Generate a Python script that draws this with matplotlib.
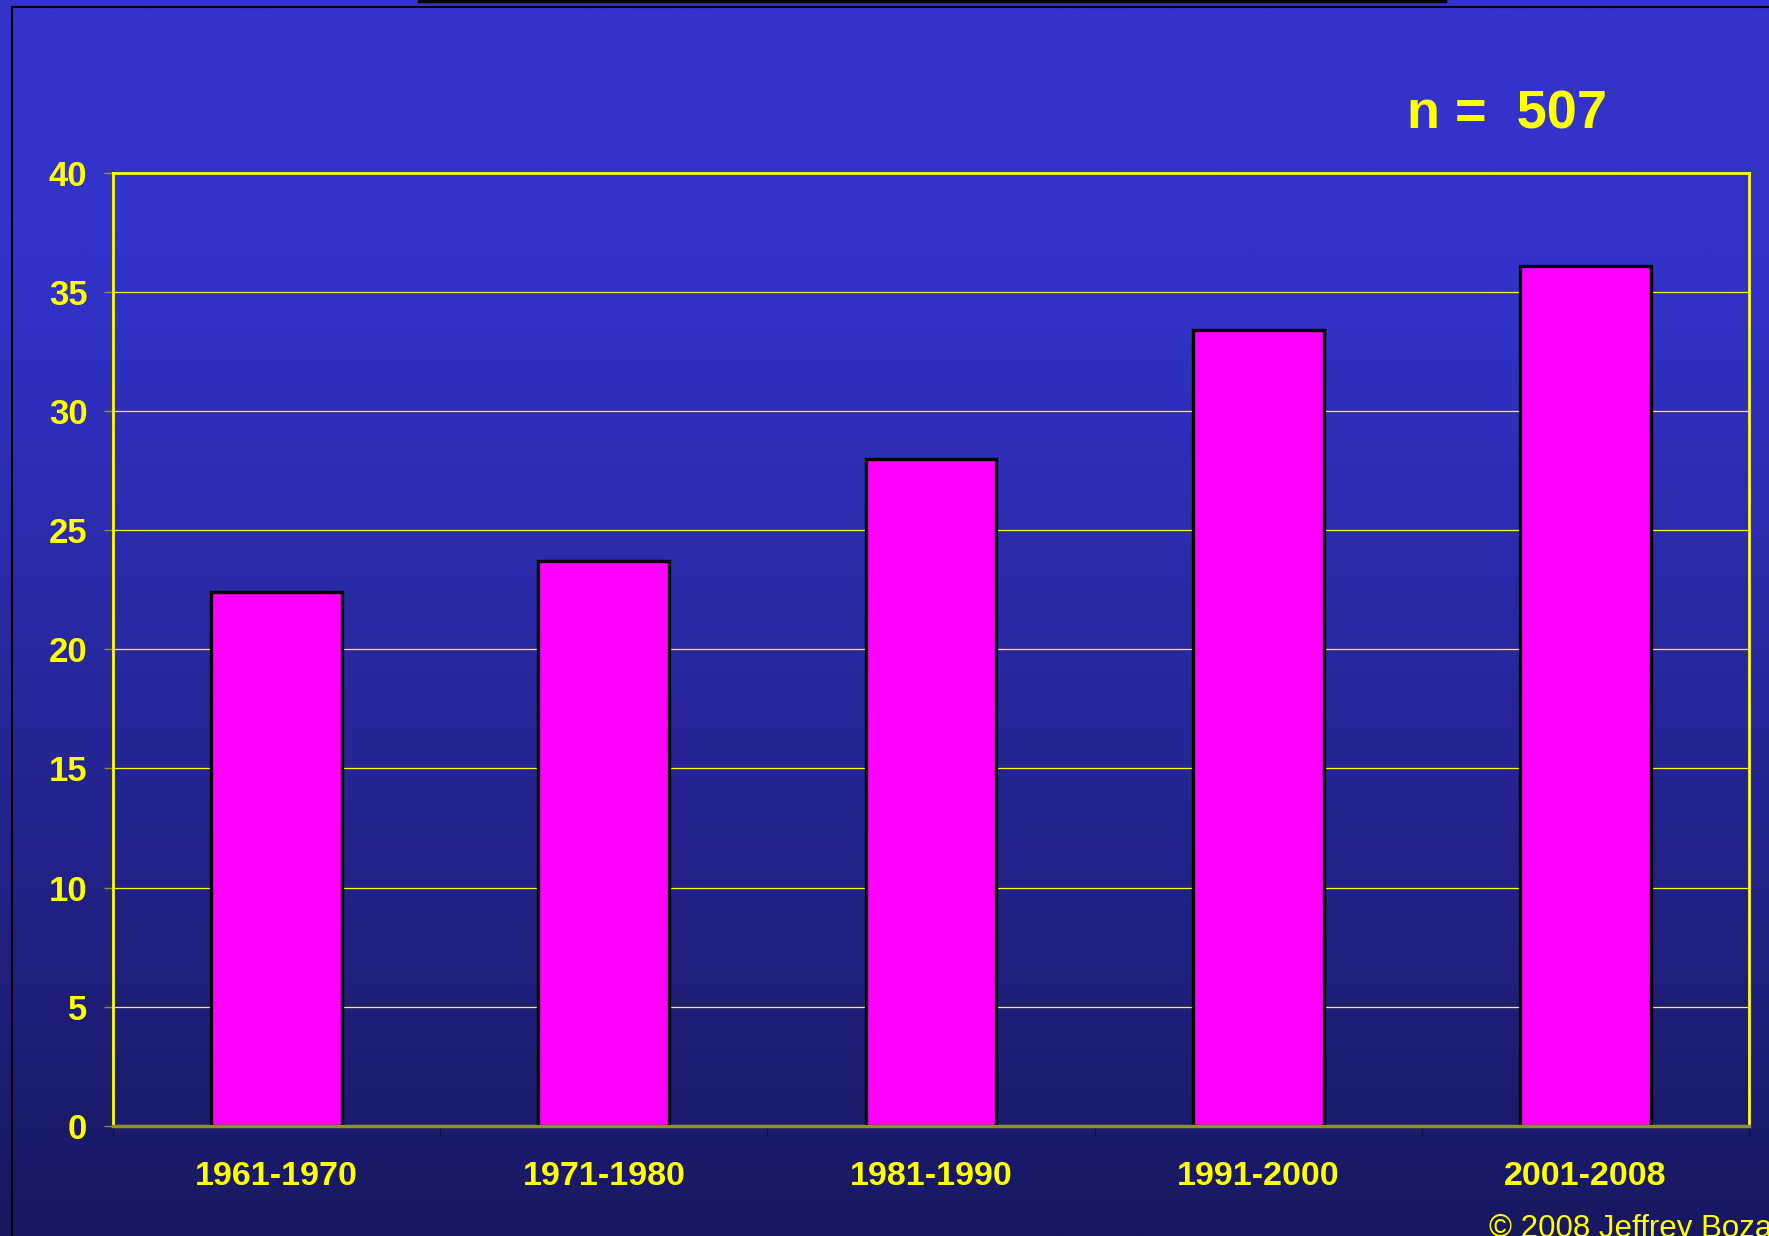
import matplotlib
matplotlib.use("Agg")
import matplotlib.pyplot as plt
import numpy as np
from matplotlib.colors import LinearSegmentedColormap
from matplotlib.lines import Line2D

# decade bins and percentage of cases in each
decades = ["1961-1970", "1971-1980", "1981-1990", "1991-2000", "2001-2008"]
percent = [22.4, 23.7, 28.0, 33.4, 36.1]
y_ticks = [0, 5, 10, 15, 20, 25, 30, 35, 40]
sample_note = "n =  507"
credit = "\u00a9 2008 Jeffrey Bozanic"

YELLOW = "#FFFF00"
MAGENTA = "#FF00FF"
TOP_BLUE = "#3333CC"
BOTTOM_BLUE = "#181860"
AXIS_OLIVE = "#8F8F2C"

plt.rcParams["font.family"] = ["Liberation Sans", "DejaVu Sans"]

fig = plt.figure(figsize=(17.69, 12.36), dpi=100)

# slide background: flat blue at the top fading to navy lower down
bg = fig.add_axes([0, 0, 1, 1], zorder=-10)
cmap = LinearSegmentedColormap.from_list(
    "slide", [(0.0, TOP_BLUE), (0.2, TOP_BLUE), (1.0, BOTTOM_BLUE)]
)
grad = np.linspace(0, 1, 512).reshape(-1, 1)
bg.imshow(grad, cmap=cmap, aspect="auto", extent=[0, 1, 0, 1], origin="upper")
bg.set_xlim(0, 1)
bg.set_ylim(0, 1)
bg.axis("off")

# thin black slide frame and the edge of the title box above it
fig.add_artist(Line2D([0.0068, 0.0068], [0, 0.9945], color="black", lw=1.5, transform=fig.transFigure))
fig.add_artist(Line2D([0.0068, 1.0], [0.9945, 0.9945], color="black", lw=1.5, transform=fig.transFigure))
fig.add_artist(Line2D([0.237, 0.817], [0.9995, 0.9995], color="black", lw=2.5, transform=fig.transFigure))

ax = fig.add_axes([0.0639, 0.0890, 0.9248, 0.7714])
ax.patch.set_alpha(0)

x = np.arange(len(decades))
ax.bar(x, percent, width=0.40, color=MAGENTA, edgecolor="black", linewidth=2.4, zorder=3)

ax.set_xlim(-0.5, len(decades) - 0.5)
ax.set_ylim(0, 40)
ax.set_yticks(y_ticks)
ax.set_yticklabels([str(t) for t in y_ticks])
ax.grid(axis="y", color=YELLOW, linewidth=0.9, zorder=1)
ax.set_axisbelow(True)

# boundary ticks between categories, labels centred under each bar
ax.set_xticks(np.arange(-0.5, len(decades), 1.0))
ax.set_xticklabels([])
ax.set_xticks(x, minor=True)
ax.set_xticklabels(decades, minor=True)
ax.tick_params(axis="x", which="major", direction="out", length=7, width=1, color="#111133")
ax.tick_params(axis="x", which="minor", length=0, pad=25, labelsize=24.5, labelcolor=YELLOW)
ax.tick_params(axis="y", direction="out", length=6.5, width=1, color=AXIS_OLIVE,
               pad=12, labelsize=25, labelcolor=YELLOW)
for lab in ax.get_xticklabels(minor=True) + ax.get_yticklabels():
    lab.set_fontweight("bold")

for side in ["left", "top", "right"]:
    ax.spines[side].set_color(YELLOW)
    ax.spines[side].set_linewidth(2)
ax.spines["bottom"].set_color(AXIS_OLIVE)
ax.spines["bottom"].set_linewidth(2.5)
ax.spines["bottom"].set_zorder(4)

fig.text(0.852, 0.9075, sample_note, color=YELLOW, fontsize=39, fontweight="bold",
         ha="center", va="center")
fig.text(0.8418, -0.001, credit, color=YELLOW, fontsize=22.5, ha="left", va="baseline")

fig.savefig("out.png", dpi=100)
